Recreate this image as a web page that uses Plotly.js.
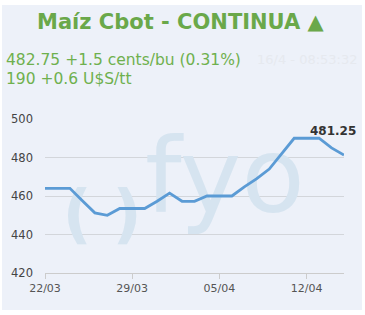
<!DOCTYPE html>
<html>
<head>
<meta charset="utf-8">
<script src="https://cdn.plot.ly/plotly-3.0.1.min.js"></script>
<style>
html,body{margin:0;padding:0;background:#ffffff;width:365px;height:315px;overflow:hidden;}
#chart{position:absolute;left:2px;top:5px;width:360px;height:305px;}
</style>
</head>
<body>
<div id="chart"></div>
<script>
const dates = ["2021-03-22","2021-03-23","2021-03-24","2021-03-25","2021-03-26","2021-03-27","2021-03-28","2021-03-29","2021-03-30","2021-03-31","2021-04-01","2021-04-02","2021-04-03","2021-04-04","2021-04-05","2021-04-06","2021-04-07","2021-04-08","2021-04-09","2021-04-10","2021-04-11","2021-04-12","2021-04-13","2021-04-14","2021-04-15"];
const prices = [464,464,464,457.5,451.25,450,453.5,453.5,453.5,457.25,461.5,457.25,457.25,460,460,460,464.75,469,474,482.25,490,490,490,485,481.25];
const tickVals = ["2021-03-22","2021-03-29","2021-04-05","2021-04-12"];
const tickText = ["22/03","29/03","05/04","12/04"];
const yTicks = [420,440,460,480,500];
const titleText = "Maíz Cbot - CONTINUA ▲";
const line1 = "482.75 +1.5 cents/bu (0.31%)";
const line2 = "190 +0.6 U$S/tt";
const stamp = "16/4 - 08:53:32";
const lastLabel = prices[prices.length-1].toFixed(2);

const W = 360, H = 305, L = 43, R = 18, T = 114.3, B = 36.7;
const PW = W - L - R, PH = H - T - B;
const OX = 2, OY = 5; // div offset on the page
function px(x){ return (x - OX - L) / PW; }
function py(y){ return 1 - (y - OY - T) / PH; }
const t0 = Date.parse(dates[0] + "T00:00:00Z"), t1 = Date.parse(dates[dates.length-1] + "T00:00:00Z");
function dx(x){ return new Date(t0 + px(x) * (t1 - t0)).toISOString().slice(0,19).replace("T"," "); }
function dy(y){ return 420 + py(y) * 80; }

const green = "#6aa84a";
const wm = "#d6e4f0";

// watermark logo, drawn beneath the price line
const wmTrace = {
  type:"scatter", mode:"text", cliponaxis:false, hoverinfo:"skip",
  x:[dx(77), dx(127), dx(225)],
  y:[dy(220), dy(220), dy(186)],
  text:["(", ")", "fyo"],
  textposition:"middle center",
  textfont:{family:"DejaVu Sans", size:[64,64,104], color:wm, weight:[700,700,400]}
};

const trace = {
  x: dates, y: prices, type:"scatter", mode:"lines",
  line:{color:"#5b9bd5", width:2.8}, hoverinfo:"skip"
};

const annotations = [
  {text: titleText, xref:"paper", yref:"paper", x: px(181), y: py(22), xanchor:"center", yanchor:"middle", showarrow:false,
   font:{family:"DejaVu Sans", size:21, color:green, weight:"bold"}},
  {text: line1, xref:"paper", yref:"paper", x: px(4), y: py(60), xanchor:"left", yanchor:"middle", showarrow:false,
   font:{family:"DejaVu Sans", size:15.5, color:"#6fb04e"}},
  {text: line2, xref:"paper", yref:"paper", x: px(4), y: py(79), xanchor:"left", yanchor:"middle", showarrow:false,
   font:{family:"DejaVu Sans", size:15.5, color:"#6fb04e"}},
  {text: stamp, xref:"paper", yref:"paper", x: px(360), y: py(60), xanchor:"right", yanchor:"middle", showarrow:false,
   font:{family:"DejaVu Sans", size:13, color:"#e6e9ef"}},
  {text: lastLabel, x: dates[dates.length-1], y: prices[prices.length-1], xref:"x", yref:"y",
   xanchor:"right", yanchor:"bottom", xshift:14, yshift:15, showarrow:false,
   font:{family:"DejaVu Sans", size:12, color:"#333333", weight:"bold"}}
];

const layout = {
  width: W, height: H,
  margin:{l:L, r:R, t:T, b:B, pad:0},
  paper_bgcolor:"#edf1f9", plot_bgcolor:"rgba(0,0,0,0)",
  showlegend:false,
  xaxis:{type:"date", range:[dates[0], dates[dates.length-1]], tickvals:tickVals, ticktext:tickText,
    showgrid:false, zeroline:false, showline:true, linecolor:"#cccccc", linewidth:1,
    ticks:"outside", ticklen:5, tickcolor:"#cccccc", tickwidth:1,
    tickfont:{family:"DejaVu Sans", size:11, color:"#555555"}, fixedrange:true},
  yaxis:{range:[420,500], tickvals:yTicks, showgrid:true, gridcolor:"#d3d6db", gridwidth:1,
    zeroline:false, showline:false, ticks:"", ticklabelstandoff:11,
    tickfont:{family:"DejaVu Sans", size:11.5, color:"#444444"}, fixedrange:true},
  annotations: annotations
};

Plotly.newPlot("chart", [wmTrace, trace], layout, {staticPlot:true, displayModeBar:false});
</script>
</body>
</html>
